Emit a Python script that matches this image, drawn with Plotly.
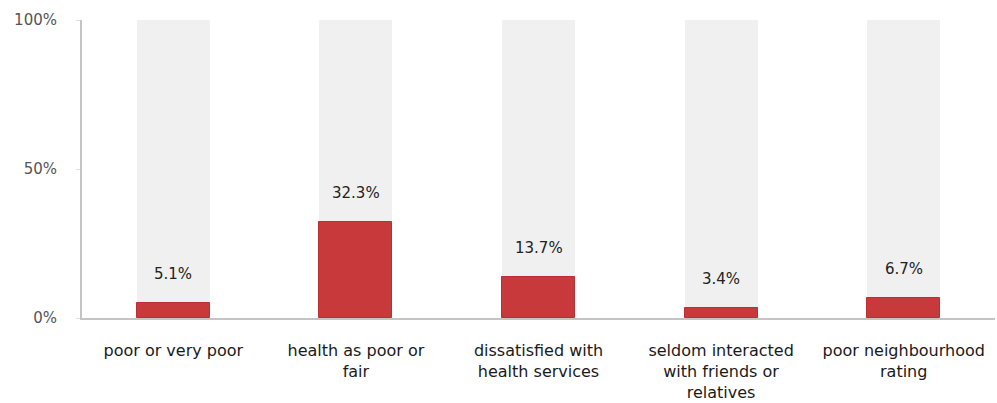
import plotly.graph_objects as go

# Share of respondents reporting each indicator (%)
categories = [
    "poor or very poor",
    "health as poor or<br>fair",
    "dissatisfied with<br>health services",
    "seldom interacted<br>with friends or<br>relatives",
    "poor neighbourhood<br>rating",
]
values = [5.1, 32.3, 13.7, 3.4, 6.7]
full_scale = [100, 100, 100, 100, 100]
tick_values = [0, 50, 100]
tick_labels = ["0%", "50%", "100%"]

FONT = "DejaVu Sans"

fig = go.Figure()

# Pale background columns spanning the full 0-100% scale
fig.add_trace(go.Bar(
    x=categories, y=full_scale, width=0.4,
    marker=dict(color="#f0f0f0", line=dict(width=0)),
    hoverinfo="skip", showlegend=False,
))

# Indicator values
fig.add_trace(go.Bar(
    x=categories, y=values, width=0.4,
    marker=dict(color="#c8393b", line=dict(color="#b83034", width=1)),
    showlegend=False,
))

# Value labels above each bar
for c, v in zip(categories, values):
    fig.add_annotation(
        x=c, y=v, text=f"{v:.1f}%", showarrow=False,
        yshift=29, font=dict(family=FONT, size=15, color="#222222"),
    )

fig.update_layout(
    width=997, height=403,
    margin=dict(l=82, r=2, t=20, b=85),
    barmode="overlay",
    bargap=0,
    plot_bgcolor="white",
    paper_bgcolor="white",
    font=dict(family=FONT),
)

fig.update_xaxes(
    showgrid=False,
    showline=True, linecolor="#c4c4c4", linewidth=2,
    ticks="", ticklabelstandoff=17,
    tickfont=dict(family=FONT, size=16, color="#1a1a1a"),
    range=[-0.5, 4.5],
)

fig.update_yaxes(
    range=[0, 100],
    tickvals=tick_values, ticktext=tick_labels,
    showgrid=False, zeroline=False,
    showline=True, linecolor="#c4c4c4", linewidth=2,
    ticks="outside", ticklen=4, tickcolor="#dddddd",
    ticklabelstandoff=16,
    tickfont=dict(family=FONT, size=15, color="#555555"),
)

fig.write_html("out.html")
